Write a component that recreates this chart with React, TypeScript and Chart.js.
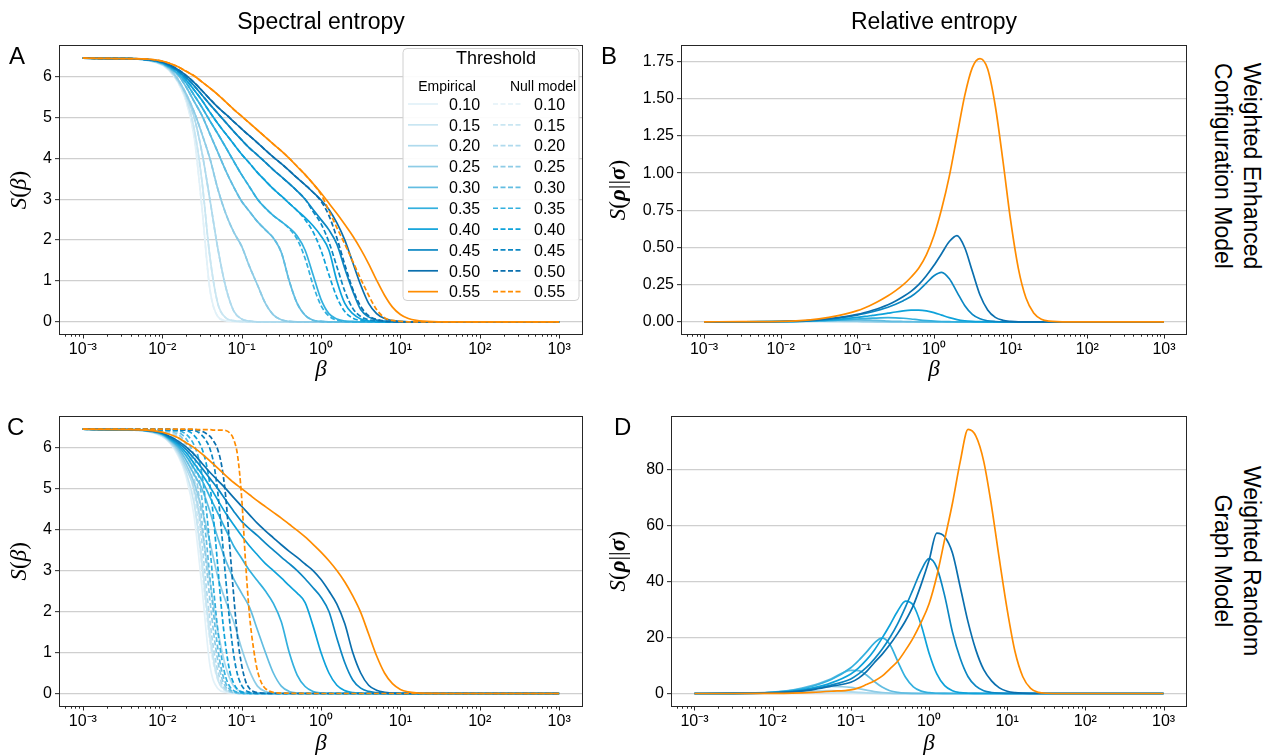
import React, { useEffect, useRef } from 'react';
import { Chart, registerables } from 'chart.js';

Chart.register(...registerables);

// ---------------- data ----------------
const THRESHOLDS = ['0.10', '0.15', '0.20', '0.25', '0.30', '0.35', '0.40', '0.45', '0.50', '0.55'];
const COLORS = ['#e2f1f8', '#c9e6f2', '#afdaed', '#8ecce6', '#62bde1', '#33b0de', '#0ea2da', '#0c87c3', '#0a6fae', '#ff8c00'];

const X_TICK_VALUES = [1e-3, 1e-2, 1e-1, 1, 10, 100, 1000];
const X_TICK_LABELS = ['10⁻³', '10⁻²', '10⁻¹', '10⁰', '10¹', '10²', '10³'];
const S_TICKS = [0, 1, 2, 3, 4, 5, 6];
const B_TICKS = [0, 0.25, 0.5, 0.75, 1, 1.25, 1.5, 1.75];
const D_TICKS = [0, 20, 40, 60, 80];

// log10(beta) sampling used for panels A and C (empirical) and A (null)
const AC_LOG_BETA = [
  -3, -2.5, -2.2, -2.0, -1.9, -1.8, -1.7, -1.6, -1.5, -1.4,
  -1.3, -1.2, -1.1, -1.0, -0.9, -0.8, -0.7, -0.6, -0.5, -0.4,
  -0.3, -0.2, -0.1, 0, 0.1, 0.2, 0.3, 0.4, 0.5, 0.6,
  0.7, 0.8, 0.9, 1.0, 1.1, 1.2, 1.4, 1.6, 2, 3,
];
// log10(beta) sampling for panel C null model
const CN_LOG_BETA = [
  -3, -2.2, -2.0, -1.9, -1.8, -1.75, -1.7, -1.65, -1.6, -1.55,
  -1.5, -1.45, -1.4, -1.35, -1.3, -1.25, -1.2, -1.15, -1.1, -1.05,
  -1.0, -0.95, -0.9, -0.85, -0.8, -0.7, -0.5, 0, 3,
];
// log10(beta) sampling for panels B and D
const BD_LOG_BETA = [
  -3, -2.5, -2, -1.75, -1.5, -1.25, -1, -0.9, -0.8, -0.7,
  -0.6, -0.5, -0.4, -0.3, -0.2, -0.1, 0, 0.1, 0.2, 0.3,
  0.4, 0.5, 0.6, 0.7, 0.8, 0.9, 1.0, 1.1, 1.2, 1.3,
  1.4, 1.5, 1.75, 2, 3,
];

// Panel A – empirical spectral entropy
const A_EMP_010 = [6.45, 6.44, 6.40, 6.28, 6.12, 5.85, 5.40, 4.55, 2.80, 0.80, 0.13, 0.03, 0.01, 0, 0, 0, 0, 0, 0, 0, 0, 0, 0, 0, 0, 0, 0, 0, 0, 0, 0, 0, 0, 0, 0, 0, 0, 0, 0, 0];
const A_EMP_015 = [6.45, 6.44, 6.40, 6.29, 6.14, 5.88, 5.48, 4.75, 3.45, 1.60, 0.45, 0.10, 0.03, 0.01, 0, 0, 0, 0, 0, 0, 0, 0, 0, 0, 0, 0, 0, 0, 0, 0, 0, 0, 0, 0, 0, 0, 0, 0, 0, 0];
const A_EMP_020 = [6.45, 6.44, 6.41, 6.30, 6.16, 5.90, 5.55, 5.02, 4.15, 3.00, 1.80, 0.85, 0.27, 0.07, 0.02, 0, 0, 0, 0, 0, 0, 0, 0, 0, 0, 0, 0, 0, 0, 0, 0, 0, 0, 0, 0, 0, 0, 0, 0, 0];
const A_EMP_025 = [6.45, 6.44, 6.41, 6.31, 6.18, 5.93, 5.58, 5.15, 4.60, 4.00, 3.25, 2.65, 2.20, 1.85, 1.35, 0.90, 0.45, 0.17, 0.05, 0.01, 0, 0, 0, 0, 0, 0, 0, 0, 0, 0, 0, 0, 0, 0, 0, 0, 0, 0, 0, 0];
const A_EMP_030 = [6.45, 6.44, 6.41, 6.32, 6.20, 6.04, 5.75, 5.40, 5.05, 4.60, 4.15, 3.70, 3.30, 2.95, 2.70, 2.45, 2.25, 2.05, 1.70, 1.00, 0.45, 0.16, 0.04, 0.01, 0, 0, 0, 0, 0, 0, 0, 0, 0, 0, 0, 0, 0, 0, 0, 0];
const A_EMP_035 = [6.45, 6.44, 6.42, 6.33, 6.22, 6.07, 5.85, 5.55, 5.25, 4.92, 4.60, 4.27, 3.93, 3.60, 3.30, 3.00, 2.78, 2.60, 2.45, 2.30, 2.10, 1.75, 1.15, 0.55, 0.20, 0.07, 0.02, 0.01, 0, 0, 0, 0, 0, 0, 0, 0, 0, 0, 0, 0];
const A_EMP_040 = [6.45, 6.44, 6.42, 6.34, 6.24, 6.12, 5.92, 5.68, 5.42, 5.13, 4.85, 4.60, 4.35, 4.10, 3.88, 3.65, 3.45, 3.25, 3.08, 2.90, 2.72, 2.55, 2.35, 2.10, 1.75, 1.00, 0.45, 0.20, 0.07, 0.02, 0.01, 0, 0, 0, 0, 0, 0, 0, 0, 0];
const A_EMP_045 = [6.45, 6.44, 6.42, 6.35, 6.26, 6.14, 5.98, 5.78, 5.55, 5.32, 5.10, 4.88, 4.66, 4.45, 4.25, 4.08, 3.90, 3.72, 3.55, 3.38, 3.20, 3.00, 2.75, 2.50, 2.25, 1.90, 1.30, 0.75, 0.30, 0.12, 0.04, 0.015, 0.005, 0, 0, 0, 0, 0, 0, 0];
const A_EMP_050 = [6.45, 6.44, 6.42, 6.36, 6.28, 6.17, 6.03, 5.86, 5.66, 5.45, 5.25, 5.08, 4.90, 4.72, 4.55, 4.38, 4.20, 4.03, 3.87, 3.70, 3.52, 3.35, 3.17, 2.98, 2.75, 2.42, 2.00, 1.45, 0.90, 0.45, 0.20, 0.08, 0.03, 0.01, 0, 0, 0, 0, 0, 0];
const A_EMP_055 = [6.45, 6.44, 6.43, 6.38, 6.32, 6.24, 6.13, 6.02, 5.87, 5.72, 5.56, 5.38, 5.20, 5.03, 4.86, 4.69, 4.52, 4.35, 4.18, 4.00, 3.80, 3.60, 3.38, 3.15, 2.90, 2.65, 2.38, 2.10, 1.78, 1.42, 1.02, 0.65, 0.36, 0.18, 0.08, 0.035, 0.005, 0, 0, 0];

// Panel A – null model (low thresholds coincide with the empirical curves)
const A_NULL_010 = A_EMP_010;
const A_NULL_015 = A_EMP_015;
const A_NULL_020 = A_EMP_020;
const A_NULL_025 = A_EMP_025;
const A_NULL_030 = A_EMP_030;
const A_NULL_035 = [6.45, 6.44, 6.42, 6.33, 6.22, 6.07, 5.85, 5.55, 5.25, 4.92, 4.60, 4.27, 3.93, 3.60, 3.30, 3.00, 2.78, 2.60, 2.45, 2.28, 2.02, 1.55, 0.90, 0.40, 0.14, 0.04, 0.01, 0, 0, 0, 0, 0, 0, 0, 0, 0, 0, 0, 0, 0];
const A_NULL_040 = [6.45, 6.44, 6.42, 6.34, 6.24, 6.12, 5.92, 5.68, 5.42, 5.13, 4.85, 4.60, 4.35, 4.10, 3.88, 3.65, 3.45, 3.25, 3.08, 2.90, 2.72, 2.50, 2.20, 1.75, 1.15, 0.60, 0.25, 0.09, 0.03, 0.01, 0, 0, 0, 0, 0, 0, 0, 0, 0, 0];
const A_NULL_045 = [6.45, 6.44, 6.42, 6.35, 6.26, 6.14, 5.98, 5.78, 5.55, 5.32, 5.10, 4.88, 4.66, 4.45, 4.25, 4.08, 3.90, 3.72, 3.55, 3.38, 3.20, 3.00, 2.70, 2.40, 1.95, 1.35, 0.75, 0.33, 0.13, 0.05, 0.02, 0.005, 0, 0, 0, 0, 0, 0, 0, 0];
const A_NULL_050 = [6.45, 6.44, 6.42, 6.36, 6.28, 6.17, 6.03, 5.86, 5.66, 5.45, 5.25, 5.08, 4.90, 4.72, 4.55, 4.38, 4.20, 4.03, 3.87, 3.70, 3.52, 3.35, 3.17, 2.95, 2.60, 2.05, 1.40, 0.80, 0.38, 0.15, 0.06, 0.02, 0.005, 0, 0, 0, 0, 0, 0, 0];
const A_NULL_055 = [6.45, 6.44, 6.43, 6.38, 6.32, 6.24, 6.13, 6.02, 5.87, 5.72, 5.56, 5.38, 5.20, 5.03, 4.86, 4.69, 4.52, 4.35, 4.18, 4.00, 3.80, 3.60, 3.38, 3.12, 2.72, 2.30, 1.90, 1.48, 1.05, 0.65, 0.30, 0.10, 0.035, 0.01, 0, 0, 0, 0, 0, 0];

// Panel C – empirical spectral entropy
const C_EMP_010 = [6.45, 6.44, 6.40, 6.27, 6.10, 5.80, 5.30, 4.35, 2.60, 0.70, 0.12, 0.03, 0.01, 0, 0, 0, 0, 0, 0, 0, 0, 0, 0, 0, 0, 0, 0, 0, 0, 0, 0, 0, 0, 0, 0, 0, 0, 0, 0, 0];
const C_EMP_015 = [6.45, 6.44, 6.40, 6.28, 6.12, 5.85, 5.40, 4.65, 3.20, 1.40, 0.35, 0.08, 0.02, 0, 0, 0, 0, 0, 0, 0, 0, 0, 0, 0, 0, 0, 0, 0, 0, 0, 0, 0, 0, 0, 0, 0, 0, 0, 0, 0];
const C_EMP_020 = [6.45, 6.44, 6.41, 6.30, 6.14, 5.90, 5.50, 5.00, 4.00, 2.75, 1.55, 0.65, 0.18, 0.04, 0.01, 0, 0, 0, 0, 0, 0, 0, 0, 0, 0, 0, 0, 0, 0, 0, 0, 0, 0, 0, 0, 0, 0, 0, 0, 0];
const C_EMP_025 = [6.45, 6.44, 6.41, 6.31, 6.16, 5.95, 5.60, 5.15, 4.50, 3.70, 2.85, 2.25, 1.75, 1.10, 0.55, 0.18, 0.05, 0.01, 0, 0, 0, 0, 0, 0, 0, 0, 0, 0, 0, 0, 0, 0, 0, 0, 0, 0, 0, 0, 0, 0];
const C_EMP_030 = [6.45, 6.44, 6.41, 6.32, 6.18, 6.00, 5.70, 5.35, 5.00, 4.45, 3.80, 3.25, 2.80, 2.45, 2.10, 1.55, 1.00, 0.50, 0.18, 0.05, 0.01, 0, 0, 0, 0, 0, 0, 0, 0, 0, 0, 0, 0, 0, 0, 0, 0, 0, 0, 0];
const C_EMP_035 = [6.45, 6.44, 6.42, 6.33, 6.20, 6.04, 5.80, 5.50, 5.20, 4.80, 4.40, 4.00, 3.60, 3.30, 3.00, 2.75, 2.50, 2.20, 1.75, 1.00, 0.45, 0.17, 0.05, 0.01, 0, 0, 0, 0, 0, 0, 0, 0, 0, 0, 0, 0, 0, 0, 0, 0];
const C_EMP_040 = [6.45, 6.44, 6.42, 6.34, 6.22, 6.08, 5.88, 5.62, 5.35, 5.05, 4.72, 4.40, 4.12, 3.85, 3.60, 3.38, 3.17, 3.00, 2.82, 2.63, 2.45, 2.22, 1.65, 1.00, 0.50, 0.20, 0.07, 0.02, 0.005, 0, 0, 0, 0, 0, 0, 0, 0, 0, 0, 0];
const C_EMP_045 = [6.45, 6.44, 6.42, 6.35, 6.24, 6.12, 5.96, 5.74, 5.50, 5.25, 5.00, 4.72, 4.45, 4.20, 4.02, 3.85, 3.67, 3.50, 3.33, 3.17, 3.00, 2.80, 2.58, 2.35, 2.00, 1.35, 0.75, 0.33, 0.13, 0.05, 0.02, 0.005, 0, 0, 0, 0, 0, 0, 0, 0];
const C_EMP_050 = [6.45, 6.44, 6.42, 6.36, 6.27, 6.16, 6.02, 5.84, 5.62, 5.40, 5.20, 5.00, 4.78, 4.57, 4.36, 4.15, 3.97, 3.80, 3.63, 3.47, 3.32, 3.16, 3.00, 2.78, 2.50, 2.18, 1.70, 1.00, 0.50, 0.20, 0.08, 0.03, 0.01, 0, 0, 0, 0, 0, 0, 0];
const C_EMP_055 = [6.45, 6.44, 6.43, 6.38, 6.32, 6.24, 6.12, 6.00, 5.85, 5.68, 5.50, 5.32, 5.15, 5.00, 4.85, 4.70, 4.56, 4.42, 4.28, 4.13, 3.98, 3.82, 3.64, 3.45, 3.24, 3.00, 2.72, 2.38, 1.98, 1.45, 0.92, 0.50, 0.24, 0.10, 0.04, 0.015, 0.003, 0, 0, 0];

// Panel C – null model (sampled on CN_LOG_BETA)
const C_NULL_010 = [6.45, 6.41, 6.37, 6.30, 6.15, 6.00, 5.78, 5.40, 4.80, 3.95, 3.00, 2.05, 1.25, 0.68, 0.33, 0.14, 0.05, 0.02, 0.007, 0, 0, 0, 0, 0, 0, 0, 0, 0, 0];
const C_NULL_015 = [6.45, 6.41, 6.38, 6.33, 6.20, 6.08, 5.88, 5.55, 5.00, 4.20, 3.25, 2.30, 1.45, 0.80, 0.40, 0.18, 0.07, 0.025, 0.01, 0, 0, 0, 0, 0, 0, 0, 0, 0, 0];
const C_NULL_020 = [6.45, 6.42, 6.40, 6.36, 6.27, 6.17, 6.00, 5.72, 5.30, 4.60, 3.70, 2.70, 1.80, 1.05, 0.55, 0.25, 0.10, 0.04, 0.015, 0.005, 0, 0, 0, 0, 0, 0, 0, 0, 0];
const C_NULL_025 = [6.45, 6.43, 6.42, 6.40, 6.32, 6.24, 6.10, 5.90, 5.55, 5.00, 4.20, 3.25, 2.30, 1.45, 0.80, 0.38, 0.16, 0.06, 0.02, 0.007, 0, 0, 0, 0, 0, 0, 0, 0, 0];
const C_NULL_030 = [6.45, 6.43, 6.42, 6.41, 6.38, 6.32, 6.22, 6.05, 5.80, 5.40, 4.75, 3.85, 2.85, 1.90, 1.10, 0.55, 0.25, 0.10, 0.04, 0.015, 0.005, 0, 0, 0, 0, 0, 0, 0, 0];
const C_NULL_035 = [6.45, 6.44, 6.43, 6.42, 6.42, 6.39, 6.33, 6.23, 6.07, 5.80, 5.35, 4.60, 3.60, 2.50, 1.55, 0.85, 0.40, 0.17, 0.07, 0.025, 0.01, 0, 0, 0, 0, 0, 0, 0, 0];
const C_NULL_040 = [6.45, 6.44, 6.44, 6.43, 6.43, 6.43, 6.42, 6.38, 6.30, 6.18, 5.98, 5.65, 5.10, 4.20, 3.10, 2.00, 1.15, 0.55, 0.25, 0.10, 0.04, 0.015, 0.005, 0, 0, 0, 0, 0, 0];
const C_NULL_045 = [6.45, 6.45, 6.44, 6.44, 6.44, 6.43, 6.43, 6.43, 6.42, 6.38, 6.30, 6.18, 5.98, 5.60, 4.90, 3.90, 2.80, 1.75, 0.95, 0.45, 0.20, 0.08, 0.03, 0.01, 0, 0, 0, 0, 0];
const C_NULL_050 = [6.45, 6.45, 6.45, 6.45, 6.44, 6.44, 6.44, 6.44, 6.44, 6.43, 6.40, 6.35, 6.28, 6.15, 5.95, 5.55, 4.80, 3.60, 2.40, 1.35, 0.70, 0.30, 0.12, 0.05, 0.02, 0.005, 0, 0, 0];
const C_NULL_055 = [6.45, 6.45, 6.45, 6.45, 6.45, 6.45, 6.45, 6.45, 6.45, 6.44, 6.44, 6.44, 6.44, 6.43, 6.43, 6.43, 6.42, 6.36, 6.20, 5.80, 4.80, 3.20, 1.90, 1.10, 0.55, 0.12, 0.01, 0, 0];

// Panel B – relative entropy, WECM
const B_010 = [0, 0, 0, 0.001, 0.002, 0.001, 0, 0, 0, 0, 0, 0, 0, 0, 0, 0, 0, 0, 0, 0, 0, 0, 0, 0, 0, 0, 0, 0, 0, 0, 0, 0, 0, 0, 0];
const B_015 = [0, 0, 0, 0.002, 0.003, 0.002, 0.001, 0, 0, 0, 0, 0, 0, 0, 0, 0, 0, 0, 0, 0, 0, 0, 0, 0, 0, 0, 0, 0, 0, 0, 0, 0, 0, 0, 0];
const B_020 = [0, 0, 0.001, 0.002, 0.004, 0.003, 0.002, 0.001, 0, 0, 0, 0, 0, 0, 0, 0, 0, 0, 0, 0, 0, 0, 0, 0, 0, 0, 0, 0, 0, 0, 0, 0, 0, 0, 0];
const B_025 = [0, 0, 0.001, 0.003, 0.005, 0.006, 0.004, 0.003, 0.002, 0.001, 0, 0, 0, 0, 0, 0, 0, 0, 0, 0, 0, 0, 0, 0, 0, 0, 0, 0, 0, 0, 0, 0, 0, 0, 0];
const B_030 = [0, 0, 0.001, 0.003, 0.007, 0.011, 0.013, 0.012, 0.010, 0.008, 0.005, 0.003, 0.002, 0.001, 0, 0, 0, 0, 0, 0, 0, 0, 0, 0, 0, 0, 0, 0, 0, 0, 0, 0, 0, 0, 0];
const B_035 = [0, 0, 0.001, 0.003, 0.007, 0.012, 0.019, 0.022, 0.025, 0.027, 0.028, 0.027, 0.024, 0.019, 0.013, 0.008, 0.004, 0.002, 0.001, 0, 0, 0, 0, 0, 0, 0, 0, 0, 0, 0, 0, 0, 0, 0, 0];
const B_040 = [0, 0, 0.002, 0.004, 0.009, 0.017, 0.030, 0.036, 0.043, 0.050, 0.058, 0.066, 0.073, 0.078, 0.079, 0.074, 0.062, 0.045, 0.028, 0.015, 0.007, 0.003, 0.001, 0, 0, 0, 0, 0, 0, 0, 0, 0, 0, 0, 0];
const B_045 = [0, 0, 0.002, 0.005, 0.012, 0.025, 0.045, 0.056, 0.068, 0.082, 0.098, 0.118, 0.142, 0.170, 0.210, 0.260, 0.310, 0.333, 0.290, 0.200, 0.110, 0.050, 0.020, 0.007, 0.002, 0, 0, 0, 0, 0, 0, 0, 0, 0, 0];
const B_050 = [0, 0, 0.002, 0.006, 0.014, 0.028, 0.050, 0.063, 0.078, 0.095, 0.115, 0.140, 0.170, 0.205, 0.250, 0.310, 0.380, 0.460, 0.540, 0.580, 0.500, 0.340, 0.180, 0.080, 0.030, 0.010, 0.003, 0, 0, 0, 0, 0, 0, 0, 0];
const B_055 = [0, 0.001, 0.003, 0.008, 0.020, 0.042, 0.075, 0.095, 0.118, 0.145, 0.175, 0.210, 0.250, 0.300, 0.360, 0.450, 0.580, 0.760, 0.980, 1.250, 1.520, 1.710, 1.770, 1.700, 1.450, 1.080, 0.680, 0.360, 0.160, 0.060, 0.018, 0.005, 0, 0, 0];

// Panel D – relative entropy, WRGM
const D_010 = [0, 0, 0.10, 0.25, 0.35, 0.30, 0.12, 0.07, 0.03, 0, 0, 0, 0, 0, 0, 0, 0, 0, 0, 0, 0, 0, 0, 0, 0, 0, 0, 0, 0, 0, 0, 0, 0, 0, 0];
const D_015 = [0, 0, 0.15, 0.35, 0.55, 0.50, 0.25, 0.15, 0.08, 0.03, 0, 0, 0, 0, 0, 0, 0, 0, 0, 0, 0, 0, 0, 0, 0, 0, 0, 0, 0, 0, 0, 0, 0, 0, 0];
const D_020 = [0, 0, 0.20, 0.50, 0.90, 1.00, 0.60, 0.40, 0.22, 0.10, 0.04, 0, 0, 0, 0, 0, 0, 0, 0, 0, 0, 0, 0, 0, 0, 0, 0, 0, 0, 0, 0, 0, 0, 0, 0];
const D_025 = [0, 0.03, 0.30, 0.80, 1.70, 2.50, 2.20, 1.70, 1.20, 0.70, 0.35, 0.15, 0.05, 0.02, 0, 0, 0, 0, 0, 0, 0, 0, 0, 0, 0, 0, 0, 0, 0, 0, 0, 0, 0, 0, 0];
const D_030 = [0, 0.05, 0.50, 1.20, 2.80, 5.30, 8.30, 8.20, 6.60, 4.30, 2.30, 1.00, 0.40, 0.13, 0.04, 0, 0, 0, 0, 0, 0, 0, 0, 0, 0, 0, 0, 0, 0, 0, 0, 0, 0, 0, 0];
const D_035 = [0, 0.05, 0.45, 1.10, 2.50, 5.00, 9.20, 11.80, 14.80, 18.00, 19.90, 17.50, 11.50, 5.80, 2.40, 0.85, 0.28, 0.08, 0.02, 0, 0, 0, 0, 0, 0, 0, 0, 0, 0, 0, 0, 0, 0, 0, 0];
const D_040 = [0, 0.04, 0.35, 0.85, 1.90, 3.80, 7.00, 9.20, 12.00, 15.50, 19.80, 24.50, 29.50, 33.00, 31.50, 24.50, 14.50, 7.00, 2.80, 1.00, 0.30, 0.08, 0.02, 0, 0, 0, 0, 0, 0, 0, 0, 0, 0, 0, 0];
const D_045 = [0, 0.03, 0.30, 0.70, 1.50, 3.00, 5.20, 7.00, 9.30, 12.30, 15.80, 20.00, 25.00, 31.00, 37.50, 44.00, 48.20, 45.00, 35.00, 22.00, 12.50, 6.00, 2.60, 1.00, 0.35, 0.10, 0.03, 0, 0, 0, 0, 0, 0, 0, 0];
const D_050 = [0, 0.02, 0.25, 0.60, 1.30, 2.60, 4.00, 5.50, 7.80, 11.00, 14.00, 17.50, 21.50, 26.00, 31.50, 39.00, 47.50, 57.30, 56.00, 50.20, 38.00, 25.50, 15.50, 8.50, 4.50, 2.00, 0.80, 0.30, 0.10, 0.03, 0, 0, 0, 0, 0];
const D_055 = [0, 0, 0.05, 0.15, 0.40, 0.80, 1.30, 2.00, 3.20, 4.50, 6.20, 8.80, 11.50, 15.50, 20.00, 25.50, 32.00, 42.00, 55.00, 68.00, 83.00, 94.40, 92.00, 83.00, 67.00, 48.00, 30.00, 15.00, 6.00, 1.80, 0.40, 0.08, 0, 0, 0];

const A_EMPIRICAL = [A_EMP_010, A_EMP_015, A_EMP_020, A_EMP_025, A_EMP_030, A_EMP_035, A_EMP_040, A_EMP_045, A_EMP_050, A_EMP_055];
const A_NULL = [A_NULL_010, A_NULL_015, A_NULL_020, A_NULL_025, A_NULL_030, A_NULL_035, A_NULL_040, A_NULL_045, A_NULL_050, A_NULL_055];
const C_EMPIRICAL = [C_EMP_010, C_EMP_015, C_EMP_020, C_EMP_025, C_EMP_030, C_EMP_035, C_EMP_040, C_EMP_045, C_EMP_050, C_EMP_055];
const C_NULL = [C_NULL_010, C_NULL_015, C_NULL_020, C_NULL_025, C_NULL_030, C_NULL_035, C_NULL_040, C_NULL_045, C_NULL_050, C_NULL_055];
const B_SERIES = [B_010, B_015, B_020, B_025, B_030, B_035, B_040, B_045, B_050, B_055];
const D_SERIES = [D_010, D_015, D_020, D_025, D_030, D_035, D_040, D_045, D_050, D_055];

// ---------------- styling ----------------
const SANS = '"Liberation Sans", Arial, Helvetica, sans-serif';
const SERIF = '"Liberation Serif", "Times New Roman", serif';
const DASH = [5, 2.5];
const LINE_W = 1.7;

type TitlePart = { t: string; font: string };
type Series = { label: string; logBeta: number[]; values: number[]; color: string; dashed: boolean };
type PanelSpec = {
  left: number; top: number; width: number; height: number;
  plot: { l: number; t: number; r: number; b: number };
  yMin: number; yMax: number; yTicks: number[]; yFmt: (v: number) => string;
  yTitle: TitlePart[]; yTitleX: number;
  series: Series[]; legend?: boolean;
};

const IT = 'italic 23px ' + SERIF;
const UP = '23px ' + SERIF;
const BI = 'italic bold 23px ' + SERIF;
const S_BETA_TITLE: TitlePart[] = [{ t: 'S', font: IT }, { t: '(', font: UP }, { t: 'β', font: IT }, { t: ')', font: UP }];
const S_REL_TITLE: TitlePart[] = [{ t: 'S', font: IT }, { t: '(', font: UP }, { t: 'ρ', font: BI }, { t: '||', font: UP }, { t: 'σ', font: BI }, { t: ')', font: UP }];

const toPoints = (logs: number[], ys: number[]) => ys.map((y, i) => ({ x: Math.pow(10, logs[i]), y }));

function entropySeries(emp: number[][], nul: number[][], empLog: number[], nulLog: number[]): Series[] {
  const out: Series[] = [];
  THRESHOLDS.forEach((t, i) => {
    out.push({ label: 'Empirical ' + t, logBeta: empLog, values: emp[i], color: COLORS[i], dashed: false });
    out.push({ label: 'Null model ' + t, logBeta: nulLog, values: nul[i], color: COLORS[i], dashed: true });
  });
  return out;
}
function relSeries(vals: number[][]): Series[] {
  return THRESHOLDS.map((t, i) => ({ label: t, logBeta: BD_LOG_BETA, values: vals[i], color: COLORS[i], dashed: false }));
}

const framePlugin = {
  id: 'frameAndMinorTicks',
  afterDraw(chart: any) {
    const { ctx, chartArea: a } = chart;
    const xs = chart.scales.x;
    ctx.save();
    ctx.strokeStyle = '#262626';
    ctx.lineWidth = 1;
    const L = Math.round(a.left) + 0.5, T = Math.round(a.top) + 0.5;
    const R = Math.round(a.right) - 0.5, B = Math.round(a.bottom) - 0.5;
    ctx.strokeRect(L, T, R - L, B - T);
    for (let e = -4; e <= 3; e++) {
      for (let k = 1; k <= 9; k++) {
        const v = k * Math.pow(10, e);
        if (v < xs.min || v > xs.max) continue;
        const px = Math.round(xs.getPixelForValue(v)) + 0.5;
        const len = k === 1 ? 4 : 2.2;
        ctx.beginPath();
        ctx.moveTo(px, B);
        ctx.lineTo(px, B + len);
        ctx.stroke();
      }
    }
    ctx.restore();
  },
};

// y-axis title with mixed italic / bold symbols, centred on the plot area
const yTitlePlugin = {
  id: 'richYTitle',
  afterDraw(chart: any, _args: any, opts: any) {
    const parts: TitlePart[] = opts.parts || [];
    if (!parts.length) return;
    const { ctx, chartArea: a } = chart;
    ctx.save();
    const widths = parts.map((p) => { ctx.font = p.font; return ctx.measureText(p.t).width; });
    const total = widths.reduce((s, w) => s + w, 0);
    ctx.translate(opts.x, (a.top + a.bottom) / 2);
    ctx.rotate(-Math.PI / 2);
    ctx.textBaseline = 'middle';
    ctx.textAlign = 'left';
    ctx.fillStyle = '#000';
    let x = -total / 2;
    parts.forEach((p, i) => { ctx.font = p.font; ctx.fillText(p.t, x, 0); x += widths[i]; });
    ctx.restore();
  },
};

const legendPlugin = {
  id: 'thresholdLegend',
  afterDraw(chart: any) {
    const ctx = chart.ctx as CanvasRenderingContext2D;
    ctx.save();
    const x0 = 403, y0 = 48.5, w = 176, h = 252;
    ctx.beginPath();
    (ctx as any).roundRect(x0, y0, w, h, 4);
    ctx.fillStyle = 'rgba(255,255,255,0.9)';
    ctx.fill();
    ctx.strokeStyle = '#d0d0d0';
    ctx.lineWidth = 1;
    ctx.stroke();
    ctx.fillStyle = '#000';
    ctx.textAlign = 'center';
    ctx.textBaseline = 'alphabetic';
    ctx.font = '18px ' + SANS;
    ctx.fillText('Threshold', 496, 64);
    ctx.font = '14px ' + SANS;
    ctx.fillText('Empirical', 447, 91);
    ctx.fillText('Null model', 543, 91);
    ctx.font = '16px ' + SANS;
    ctx.textAlign = 'left';
    THRESHOLDS.forEach((t, i) => {
      const y = 104 + i * 20.85;
      ctx.strokeStyle = COLORS[i];
      ctx.lineWidth = LINE_W;
      ctx.setLineDash([]);
      ctx.beginPath(); ctx.moveTo(408, y); ctx.lineTo(438, y); ctx.stroke();
      ctx.setLineDash(DASH);
      ctx.beginPath(); ctx.moveTo(493, y); ctx.lineTo(521, y); ctx.stroke();
      ctx.setLineDash([]);
      ctx.fillText(t, 449, y + 5.7);
      ctx.fillText(t, 534, y + 5.7);
    });
    ctx.restore();
  },
};

function buildConfig(p: PanelSpec): any {
  const padTop = p.plot.t - p.top;
  const padRight = p.left + p.width - p.plot.r;
  const yW = p.plot.l - p.left;
  const xH = p.top + p.height - p.plot.b;
  const n = p.series.length;
  return {
    type: 'line',
    data: {
      datasets: p.series.map((s, i) => ({
        label: s.label,
        data: toPoints(s.logBeta, s.values),
        borderColor: s.color,
        backgroundColor: s.color,
        borderWidth: LINE_W,
        borderDash: s.dashed ? DASH : [],
        pointRadius: 0,
        fill: false,
        cubicInterpolationMode: 'monotone',
        order: n - i,
      })),
    },
    options: {
      animation: false,
      responsive: false,
      maintainAspectRatio: false,
      devicePixelRatio: 1,
      events: [],
      layout: { padding: { left: 0, top: padTop, right: padRight, bottom: 0 } },
      plugins: {
        legend: { display: false },
        tooltip: { enabled: false },
        title: { display: false },
        richYTitle: { parts: p.yTitle, x: p.yTitleX },
      },
      scales: {
        x: {
          type: 'logarithmic',
          min: Math.pow(10, -3.3),
          max: Math.pow(10, 3.3),
          afterBuildTicks: (s: any) => { s.ticks = X_TICK_VALUES.map((v) => ({ value: v, major: true })); },
          afterFit: (s: any) => { s.height = xH; },
          ticks: {
            callback: (_v: any, i: number) => X_TICK_LABELS[i],
            font: { family: SANS, size: 16 },
            color: '#000',
            padding: 5,
            maxRotation: 0,
            minRotation: 0,
            autoSkip: false,
          },
          grid: { display: true, drawOnChartArea: false, drawTicks: false },
          border: { display: false },
          title: {
            display: true,
            text: 'β',
            font: { family: SERIF, size: 23, style: 'italic', lineHeight: 1 },
            color: '#000',
            padding: { top: 0, bottom: 0 },
          },
        },
        y: {
          type: 'linear',
          min: p.yMin,
          max: p.yMax,
          afterBuildTicks: (s: any) => { s.ticks = p.yTicks.map((v) => ({ value: v })); },
          afterFit: (s: any) => { s.width = yW; },
          ticks: {
            callback: (v: any) => p.yFmt(Number(v)),
            font: { family: SANS, size: 16 },
            color: '#000',
            padding: 3,
            autoSkip: false,
          },
          grid: { color: '#cfcfcf', lineWidth: 1.3, tickColor: '#262626', tickLength: 4, tickWidth: 1, drawTicks: true },
          border: { display: false },
          title: { display: false },
        },
      },
    },
    plugins: p.legend ? [framePlugin, yTitlePlugin, legendPlugin] : [framePlugin, yTitlePlugin],
  };
}

const PANELS: PanelSpec[] = [
  {
    left: 0, top: 0, width: 600, height: 381,
    plot: { l: 59, t: 45, r: 583, b: 335 },
    yMin: -0.3225, yMax: 6.7725, yTicks: S_TICKS, yFmt: (v) => String(v),
    yTitle: S_BETA_TITLE, yTitleX: 20,
    series: entropySeries(A_EMPIRICAL, A_NULL, AC_LOG_BETA, AC_LOG_BETA), legend: true,
  },
  {
    left: 600, top: 0, width: 600, height: 381,
    plot: { l: 681, t: 45, r: 1187, b: 335 },
    yMin: -0.0887, yMax: 1.862, yTicks: B_TICKS, yFmt: (v) => v.toFixed(2),
    yTitle: S_REL_TITLE, yTitleX: 19,
    series: relSeries(B_SERIES),
  },
  {
    left: 0, top: 381, width: 600, height: 374,
    plot: { l: 59, t: 416, r: 583, b: 706.7 },
    yMin: -0.3225, yMax: 6.7725, yTicks: S_TICKS, yFmt: (v) => String(v),
    yTitle: S_BETA_TITLE, yTitleX: 20,
    series: entropySeries(C_EMPIRICAL, C_NULL, AC_LOG_BETA, CN_LOG_BETA),
  },
  {
    left: 600, top: 381, width: 600, height: 374,
    plot: { l: 671, t: 416, r: 1187, b: 706.7 },
    yMin: -4.72, yMax: 99.2, yTicks: D_TICKS, yFmt: (v) => String(v),
    yTitle: S_REL_TITLE, yTitleX: 19,
    series: relSeries(D_SERIES),
  },
];

function ChartPanel({ spec }: { spec: PanelSpec }) {
  const ref = useRef<HTMLCanvasElement>(null);
  useEffect(() => {
    if (!ref.current) return;
    const chart = new Chart(ref.current, buildConfig(spec));
    return () => chart.destroy();
  }, [spec]);
  return (
    <canvas
      ref={ref}
      width={spec.width}
      height={spec.height}
      style={{ position: 'absolute', left: spec.left, top: spec.top, width: spec.width, height: spec.height, display: 'block' }}
    />
  );
}

const textBase: React.CSSProperties = { position: 'absolute', fontFamily: SANS, color: '#000', whiteSpace: 'nowrap' };

export default function App() {
  return (
    <div style={{ position: 'absolute', left: 0, top: 0, width: 1266, height: 755, background: '#fff', overflow: 'hidden' }}>
      {PANELS.map((p, i) => <ChartPanel key={i} spec={p} />)}
      <div style={{ ...textBase, left: 121, width: 400, top: 10, textAlign: 'center', fontSize: 23, lineHeight: '23px' }}>Spectral entropy</div>
      <div style={{ ...textBase, left: 734, width: 400, top: 10, textAlign: 'center', fontSize: 23, lineHeight: '23px' }}>Relative entropy</div>
      <div style={{ ...textBase, left: 9, top: 44, fontSize: 24, lineHeight: '24px' }}>A</div>
      <div style={{ ...textBase, left: 601, top: 44, fontSize: 24, lineHeight: '24px' }}>B</div>
      <div style={{ ...textBase, left: 7, top: 415, fontSize: 24, lineHeight: '24px' }}>C</div>
      <div style={{ ...textBase, left: 614, top: 415, fontSize: 24, lineHeight: '24px' }}>D</div>
      <div style={{ ...textBase, left: 1236.5, top: 166, fontSize: 23, lineHeight: '29px', textAlign: 'center', transform: 'translate(-50%, -50%) rotate(90deg)' }}>
        Weighted Enhanced<br />Configuration Model
      </div>
      <div style={{ ...textBase, left: 1236.5, top: 561, fontSize: 23, lineHeight: '29px', textAlign: 'center', transform: 'translate(-50%, -50%) rotate(90deg)' }}>
        Weighted Random<br />Graph Model
      </div>
    </div>
  );
}
